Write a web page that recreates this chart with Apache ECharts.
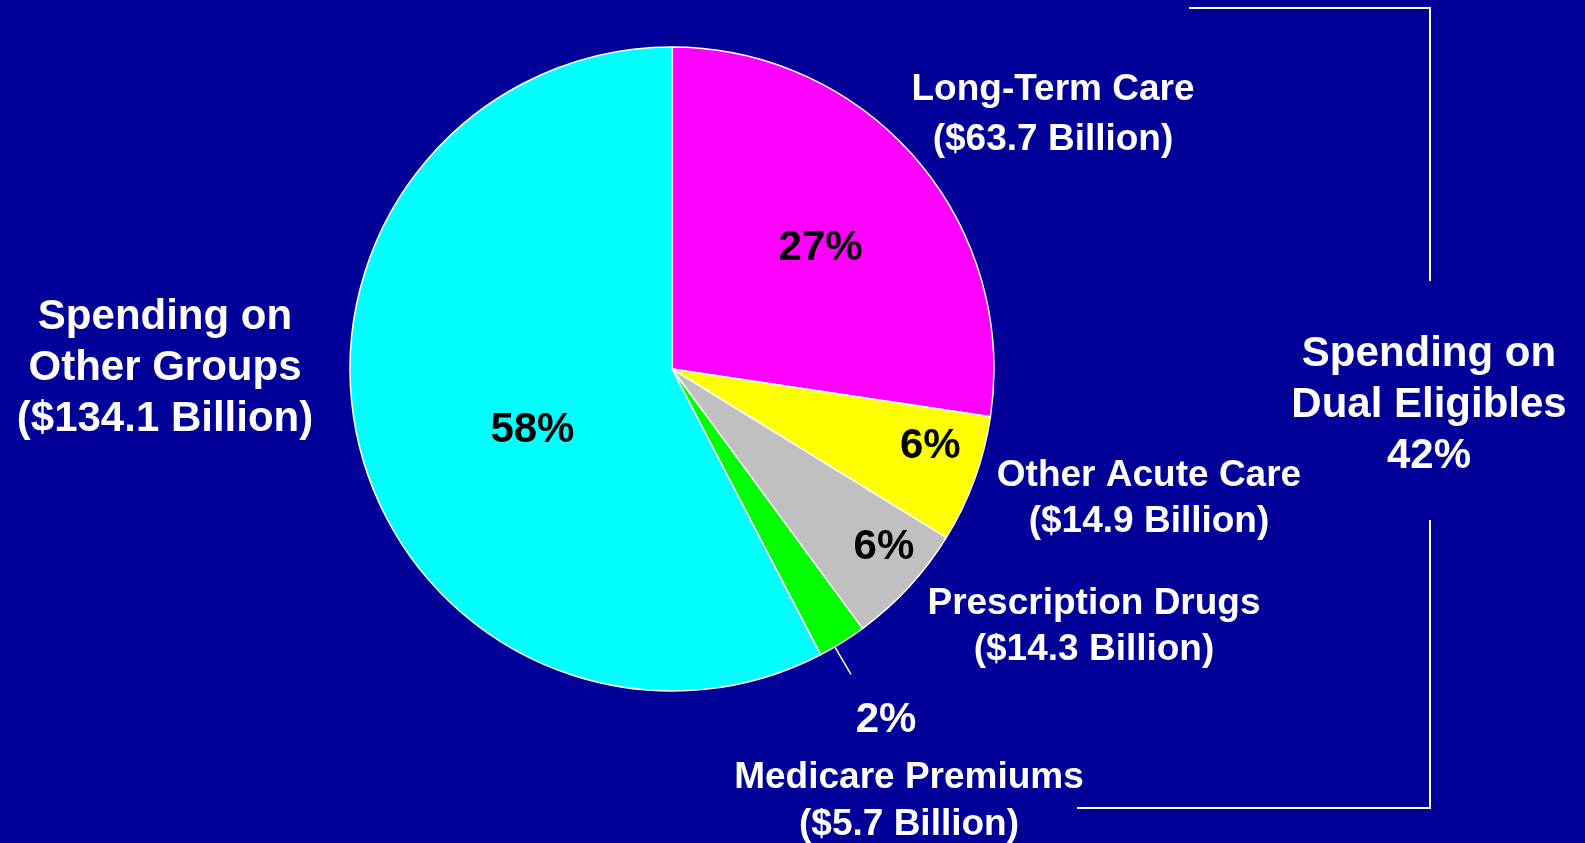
<!DOCTYPE html>
<html>
<head>
<meta charset="utf-8">
<title>Medicaid spending on dual eligibles</title>
<script src="https://cdn.jsdelivr.net/npm/echarts@6/dist/echarts.min.js"></script>
<style>
  html, body { margin: 0; padding: 0; background: #000099; }
  #main { width: 1585px; height: 843px; }
</style>
</head>
<body>
<div id="main"></div>
<script>
// data (billions of dollars)
var categories = ['Long-Term Care', 'Other Acute Care', 'Prescription Drugs', 'Medicare Premiums', 'Other Groups'];
var billions = [63.7, 14.9, 14.3, 5.7, 134.1];
var sliceColors = ['#ff00ff', '#ffff00', '#c0c0c0', '#00ff00', '#00ffff'];
var dualCount = 4; // first four slices are spending on dual eligibles

// layout
var cx = 672, cy = 369, R = 322;
var font = '"Liberation Sans", Arial, sans-serif';
var labelRadius = [0.6, 0.835, 0.855, 1.27, 0.47];
var labelTurn = [1, -4, -3, 0.3, -9];

var total = billions.reduce(function (a, b) { return a + b; }, 0);
var pct = billions.map(function (v) { return Math.round(v / total * 100); });

// mid angle of each slice, degrees clockwise from 12 o'clock
var midAngles = [];
var acc = 0;
billions.forEach(function (v) {
	var a = v / total * 360;
	midAngles.push(acc + a / 2);
	acc += a;
});

function polar(angle, dist) {
	var t = angle * Math.PI / 180;
	return [cx + Math.sin(t) * dist, cy - Math.cos(t) * dist];
}

var myChart = echarts.init(document.getElementById('main'));

var pieData = categories.map(function (name, i) {
	return {
		name : name,
		value : billions[i],
		itemStyle : { color : sliceColors[i] },
		label : { color : i === 3 ? '#ffffff' : '#000000' }
	};
});

function outsideText(i) {
	return categories[i] + '\n($' + billions[i].toFixed(1) + ' Billion)';
}

var dualPct = 0;
for (var i = 0; i < dualCount; i++) dualPct += billions[i];
dualPct = Math.round(dualPct / total * 100);

// white outside label blocks
var textStyle = function (text, x, y, size, lh) {
	return {
		type : 'text',
		x : x,
		y : y,
		style : {
			text : text,
			fill : '#ffffff',
			font : 'bold ' + size + 'px ' + font,
			lineHeight : lh,
			align : 'center',
			verticalAlign : 'middle'
		}
	};
};

// leader line for the small green slice
var lineStart = polar(midAngles[3] + 1.5, R);
var lineEnd = polar(midAngles[3] + 1.5, R + 32);

var option = {
	backgroundColor : '#000099',
	animation : false,
	series : [{
		type : 'pie',
		center : [cx, cy],
		radius : R,
		startAngle : 90,
		clockwise : true,
		data : pieData,
		itemStyle : { borderColor : '#ffffff', borderWidth : 1.5 },
		emphasis : { disabled : true },
		label : {
			show : true,
			position : 'inside',
			fontFamily : font,
			fontWeight : 'bold',
			fontSize : 42,
			formatter : function (p) { return pct[p.dataIndex] + '%'; }
		},
		labelLine : { show : false },
		labelLayout : function (p) {
			var i = p.dataIndex;
			var pt = polar(midAngles[i] + labelTurn[i], R * labelRadius[i]);
			return { x : pt[0], y : pt[1] + 3, align : 'center', verticalAlign : 'middle' };
		}
	}],
	graphic : [
		textStyle(outsideText(0), 1053, 115, 37, 50),
		textStyle(outsideText(1), 1149, 499, 37, 46),
		textStyle(outsideText(2), 1094, 627, 37, 46),
		textStyle(outsideText(3), 909, 801, 37, 47),
		textStyle('Spending on\n' + outsideText(4), 165, 368, 42, 51),
		textStyle('Spending on\nDual Eligibles\n' + dualPct + '%', 1429, 405, 42, 51),
		{
			type : 'line',
			shape : { x1 : lineStart[0], y1 : lineStart[1], x2 : lineEnd[0], y2 : lineEnd[1] },
			style : { stroke : '#ffffff', lineWidth : 1.5 }
		},
		{
			type : 'polyline',
			shape : { points : [[1189, 8], [1430, 8], [1430, 281]] },
			style : { stroke : '#ffffff', lineWidth : 2, fill : null }
		},
		{
			type : 'polyline',
			shape : { points : [[1430, 520], [1430, 808], [1077, 808]] },
			style : { stroke : '#ffffff', lineWidth : 2, fill : null }
		}
	]
};

myChart.setOption(option);
</script>
</body>
</html>
